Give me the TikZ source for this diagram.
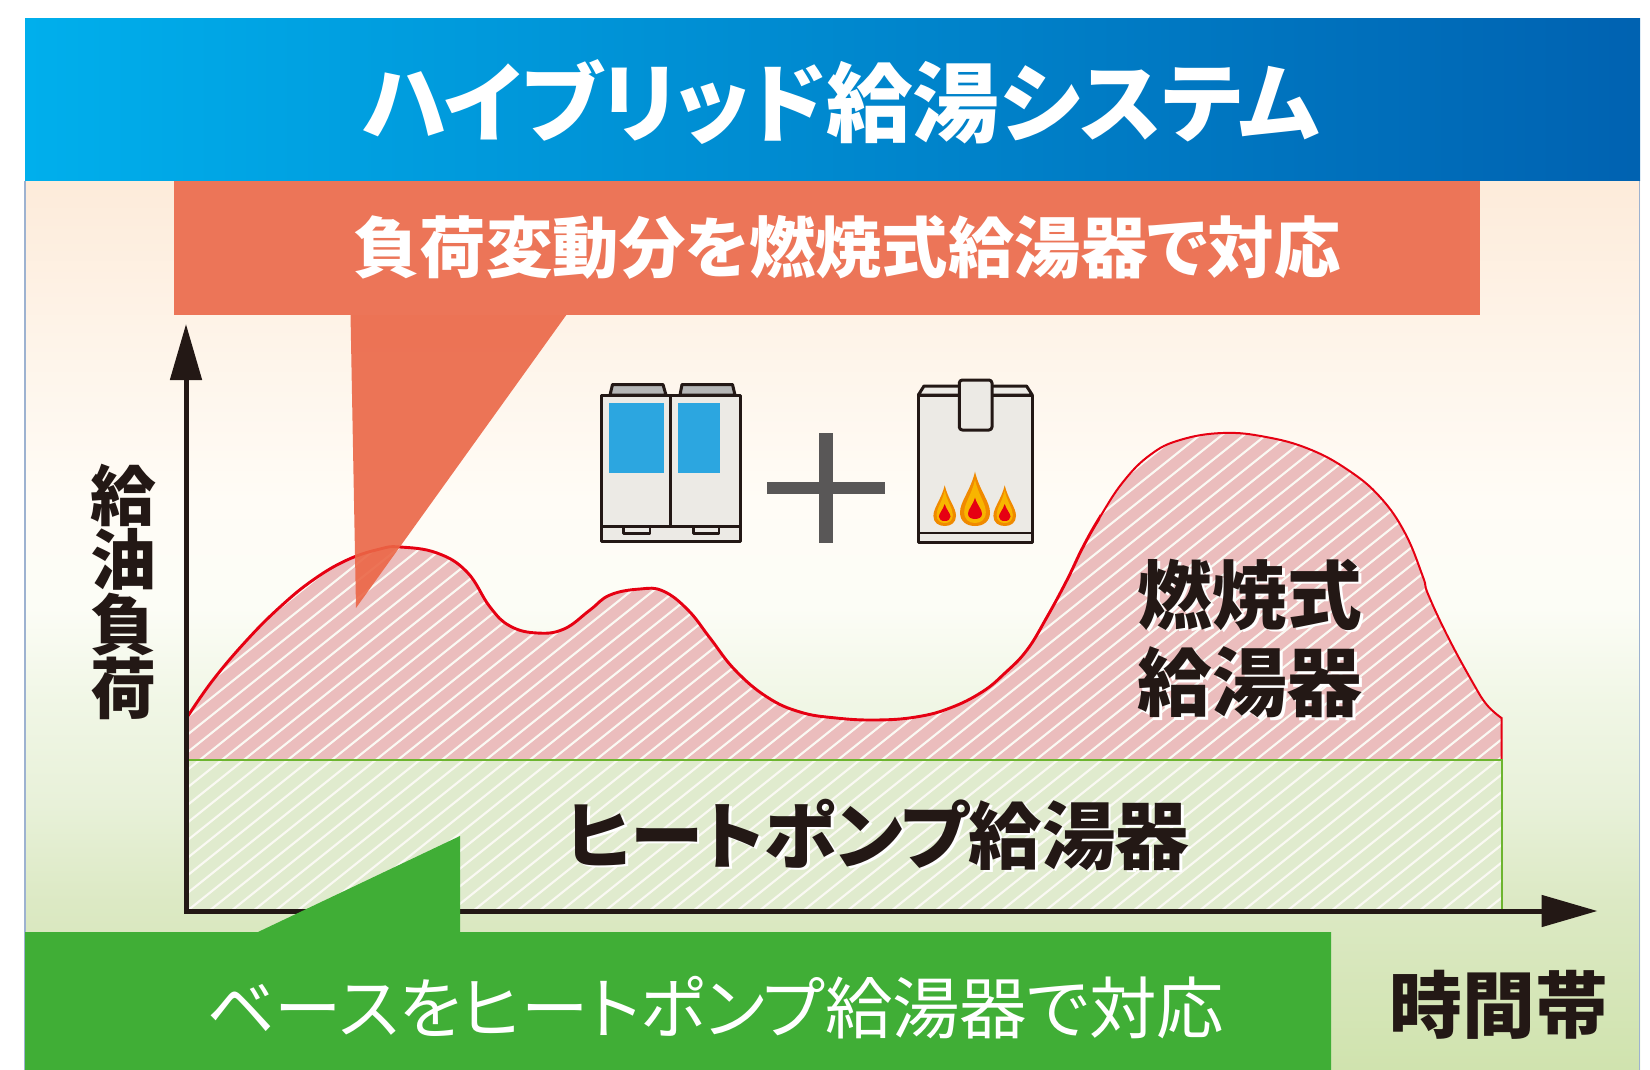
\documentclass[tikz,border=0pt]{standalone}
\usepackage{fontspec}
\usepackage{graphicx}
\usetikzlibrary{arrows.meta}
\newfontfamily\jp[RawFeature={+palt}]{Noto Sans CJK JP}
\definecolor{inkc}{HTML}{231815}
\definecolor{unitc}{HTML}{ECEAE5}
\definecolor{bannerred}{HTML}{EC7558}
\definecolor{tailred}{HTML}{EB6646}
\definecolor{bannergreen}{HTML}{40AE36}
\definecolor{curvered}{HTML}{E60012}
\definecolor{pinkfill}{HTML}{EBBDBD}
\definecolor{greenfill}{HTML}{E0EBCE}
\definecolor{baselinegreen}{HTML}{6DB52F}
\definecolor{hatchc}{HTML}{FAF9F3}
\definecolor{edgeblue}{HTML}{9DB2D0}
\definecolor{flameo}{HTML}{F08A00}
\definecolor{flamey}{HTML}{F8B500}
\definecolor{plusc}{HTML}{595757}
\definecolor{bluepanel}{HTML}{2CA6E0}
\definecolor{capgray}{HTML}{B5B6B6}
\definecolor{headl}{HTML}{00AFEC}
\definecolor{headr}{HTML}{0062B1}
\pgfdeclareverticalshading{bgshade}{100bp}{
 color(0bp)=(rgb,255:red,208;green,227;blue,174);
 color(25bp)=(rgb,255:red,208;green,227;blue,174);
 color(34.5bp)=(rgb,255:red,220;green,233;blue,196);
 color(40bp)=(rgb,255:red,232;green,241;blue,217);
 color(45.5bp)=(rgb,255:red,240;green,246;blue,229);
 color(51bp)=(rgb,255:red,252;green,253;blue,246);
 color(57bp)=(rgb,255:red,255;green,252;blue,246);
 color(66bp)=(rgb,255:red,254;green,244;blue,233);
 color(75bp)=(rgb,255:red,253;green,235;blue,218);
 color(100bp)=(rgb,255:red,253;green,235;blue,218)}
\newcommand\halo[1]{\rlap{\kern1.3pt\raisebox{-1.3pt}{\textcolor{white}{#1}}}#1}
\newcommand\flamepath{(0,-1) .. controls (.3,-.65) and (1,-.45) .. (1,-.25) .. controls (1,-.08) and (.55,0) .. (0,0) .. controls (-.55,0) and (-1,-.08) .. (-1,-.25) .. controls (-1,-.45) and (-.3,-.65) .. (0,-1) -- cycle}
\newcommand\loadcurve{plot[smooth,tension=.7] coordinates {(188,716) (213,680) (247,640) (280,607) (313,580) (347,560) (380,549) (400,547) (437,553) (467,572) (490,607) (510,626) (537,633) (564,629) (590,610) (610,595) (640,589) (663,591) (688,610) (710,638) (735,670) (767,697) (800,712) (836,718) (876,720) (916,717) (950,708) (982,692) (1005,673) (1027,650) (1047,617) (1067,580) (1083,547) (1100,517) (1123,482) (1150,455) (1180,440) (1223,433) (1266,437) (1309,449) (1348,470) (1380,497) (1405,533) (1423,577) (1428,594) (1448,637) (1473,683) (1487,705) (1501.5,718)}}
\tikzset{
 hatchline/.style={hatchc,line width=1.05pt},
 unitline/.style={draw=inkc,line width=1.5pt,line join=round},
 whitetext/.style={text=white,inner sep=0pt},
 inktext/.style={text=inkc,inner sep=0pt},
 axisline/.style={draw=inkc,line width=2.5pt,line join=miter},
}
\begin{document}
\begin{tikzpicture}[x=.5pt,y=-.5pt]
\useasboundingbox (0,0) rectangle (1650,1070);
\fill[white] (0,0) rectangle (1650,1070);
% background
\shade[shading=bgshade] (25,181) rectangle (1640,1070);
\draw[edgeblue,line width=.8pt] (25,181) -- (25,1070);
\draw[edgeblue,line width=.8pt] (1639.5,181) -- (1639.5,1070);
% header
\shade[left color=headl,right color=headr,shading angle=90] (25,19) rectangle (1640,181);
% regions
\fill[pinkfill] \loadcurve -- (1501.5,760) -- (186,760) -- cycle;
\begin{scope}
\clip \loadcurve -- (1501.5,760) -- (186,760) -- cycle;
\foreach \k in {-20,...,70}{\draw[hatchline] (\k*22-11,911) -- ++(610,-488);}
\end{scope}
\fill[greenfill] (186,760) rectangle (1501.5,911);
\begin{scope}
\clip (186,760) rectangle (1501.5,911);
\foreach \k in {-10,...,70}{\draw[hatchline] (\k*22-11,911) -- ++(200,-160);}
\end{scope}
\begin{scope}
\clip (150,400) rectangle (1100,760);
\draw[curvered,line width=1.45pt] \loadcurve;
\end{scope}
\begin{scope}
\clip (1100,400) rectangle (1520,760);
\draw[curvered,line width=1pt] \loadcurve -- (1501.5,760);
\end{scope}
\draw[baselinegreen,line width=1pt] (186,760) -- (1501.5,760) -- (1501.5,911);
% axes
\coordinate (ytip) at (186,324);
\coordinate (origin) at (186,911);
\coordinate (xtip) at (1597.5,911);
\draw[axisline,{Triangle[length=28pt,width=15.5pt]}-{Triangle[length=28pt,width=15.5pt]}] (ytip) -- (origin) -- (xtip);
% heat pump unit
\fill[capgray,unitline] (610,395) -- (612.5,384.5) -- (663,384.5) -- (666,395) -- cycle;
\fill[capgray,unitline] (680,395) -- (682,384.5) -- (732.5,384.5) -- (735,395) -- cycle;
\fill[unitc,unitline] (601.7,395) rectangle (740.7,541.7);
\draw[unitline] (601.7,526) -- (740.7,526);
\draw[unitline] (670.7,395) -- (670.7,526);
\fill[bluepanel] (608.7,403) rectangle (663.7,472.7);
\fill[bluepanel] (677.7,403) rectangle (719.7,472.7);
\draw[unitline,line width=1.2pt] (623.5,526) -- (623.5,533.5) -- (650,533.5) -- (650,526);
\draw[unitline,line width=1.2pt] (693.5,526) -- (693.5,533.5) -- (719,533.5) -- (719,526);
% plus
\fill[plusc] (767,482) rectangle (884.7,494);
\fill[plusc] (818.7,433.3) rectangle (833.3,542.7);
% burner
\fill[unitc,unitline] (918.3,395) -- (924,386) -- (1026.5,386) -- (1032.3,395) -- cycle;
\fill[unitc,unitline] (918.3,395) rectangle (1032.3,542.3);
\draw[unitline,line width=1.2pt] (918.3,532.7) -- (1032.3,532.7);
\fill[unitc,unitline,rounded corners=1.5pt] (959.3,380) rectangle (992,430);
\foreach \cx/\tp/\bt/\hw/\rt/\rb/\rw in {944.7/485.3/526/11.3/504/521/5.8, 975/471.7/526/15/497.7/519/7, 1004.7/485.3/526/11.3/504/521/5.8}{
 \pgfmathsetmacro\hh{\bt-\tp}
 \pgfmathsetmacro\rh{\rb-\rt}
 \pgfmathsetmacro\iw{\hw*.72}
 \pgfmathsetmacro\ih{\hh*.8}
 \pgfmathsetmacro\ib{\bt-3}
 \fill[flameo,shift={(\cx,\bt)},xscale=\hw,yscale=\hh] \flamepath;
 \fill[flamey,shift={(\cx,\ib)},xscale=\iw,yscale=\ih] \flamepath;
 \fill[curvered,shift={(\cx,\rb)},xscale=\rw,yscale=\rh] \flamepath;
}
% green banner
\fill[bannergreen] (25,932) -- (258,932) -- (460,836) -- (460,932) -- (1331,932) -- (1331,1070) -- (25,1070) -- cycle;
% red tail and banner
\fill[tailred,opacity=.9] (350.5,314) -- (567,314) -- (356,608) -- cycle;
\fill[bannerred] (173.6,181) rectangle (1479.5,315);
% texts
\node[whitetext,font=\jp\bfseries\fontsize{43.4pt}{44pt}\selectfont] (title) at (840.7,102) {ハイブリッド給湯システム};
\node[whitetext,font=\jp\bfseries\fontsize{33.2pt}{33pt}\selectfont] (redtext) at (847,247) {負荷変動分を燃焼式給湯器で対応};
\node[whitetext,font=\jp\fontsize{33.7pt}{33pt}\selectfont] (greentext) at (715.6,1008) {ベースをヒートポンプ給湯器で対応};
\node[inktext,font=\jp\bfseries\fontsize{36.75pt}{36pt}\selectfont] (hptext) at (877.6,836) {\halo{ヒートポンプ給湯器}};
\node[inktext,font=\jp\bfseries\fontsize{37.4pt}{43.7pt}\selectfont,align=center] (fuel) at (1250,639.5) {\halo{燃焼式}\\\halo{給湯器}};
\node[inktext,font=\jp\bfseries\fontsize{36.4pt}{36pt}\selectfont] (timeband) at (1499,1005) {時間帯};
\node[inktext,font=\jp\bfseries\fontsize{33pt}{32.3pt}\selectfont,align=center] (yaxislabel) at (123,592) {給\\油\\負\\荷};
\end{tikzpicture}
\end{document}
